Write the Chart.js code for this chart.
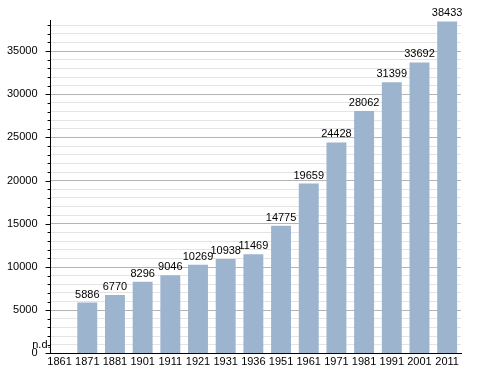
<!DOCTYPE html>
<html>
<head>
<meta charset="utf-8">
<script src="https://cdn.jsdelivr.net/npm/chart.js@4.4.0/dist/chart.umd.min.js"></script>
<style>
  html, body { margin: 0; padding: 0; background: #fff; }
  #wrap { width: 488px; height: 373px; position: relative; }
</style>
</head>
<body>
<div id="wrap"><canvas id="popChart"></canvas></div>
<script>
// =====================
// Data
// =====================
const years = ['1861', '1871', '1881', '1901', '1911', '1921', '1931', '1936',
  '1951', '1961', '1971', '1981', '1991', '2001', '2011'];
const population = [null, 5886, 6770, 8296, 9046, 10269, 10938, 11469,
  14775, 19659, 24428, 28062, 31399, 33692, 38433];
const missingLabel = 'n.d.';
const minorStep = 1000;
const majorStep = 5000;
const yTop = 38600;

const FONT = { family: 'Liberation Sans, Arial, sans-serif', size: 11 };
const isMajor = v => Math.round(v) % majorStep === 0;

// value labels above the bars + "n.d." for the missing census
const valueLabels = {
  id: 'valueLabels',
  afterDatasetsDraw(chart) {
    const ctx = chart.ctx;
    const meta = chart.getDatasetMeta(0);
    ctx.save();
    ctx.font = `${FONT.size}px ${FONT.family}`;
    ctx.fillStyle = '#000';
    ctx.textAlign = 'center';
    ctx.textBaseline = 'alphabetic';
    meta.data.forEach((bar, i) => {
      if (population[i] == null) return;
      ctx.fillText(String(population[i]), bar.x, bar.y - 5);
    });
    // n.d. sits just above zero, against the axis
    const yScale = chart.scales.y;
    ctx.textAlign = 'right';
    ctx.fillText(missingLabel, chart.chartArea.left, yScale.getPixelForValue(0) - 5);
    ctx.restore();
  }
};

// small tick marks left of the y axis (longer every 5000)
const yTickMarks = {
  id: 'yTickMarks',
  afterDraw(chart) {
    const ctx = chart.ctx;
    const yScale = chart.scales.y;
    const left = chart.chartArea.left;
    ctx.save();
    ctx.strokeStyle = '#000';
    ctx.lineWidth = 1;
    yScale.ticks.forEach(t => {
      const y = Math.round(yScale.getPixelForValue(t.value)) + 0.5;
      const len = isMajor(t.value) ? 5 : 3;
      ctx.beginPath();
      ctx.moveTo(left - len, y);
      ctx.lineTo(left, y);
      ctx.stroke();
    });
    ctx.restore();
  }
};

const ctx = document.getElementById('popChart').getContext('2d');
new Chart(ctx, {
  type: 'bar',
  data: {
    datasets: [{
      data: population.map((v, i) => ({ x: i, y: v })),
      backgroundColor: '#9db4cf',
      borderWidth: 0,
      barPercentage: 0.72,
      categoryPercentage: 1
    }]
  },
  options: {
    responsive: true,
    maintainAspectRatio: false,
    animation: false,
    layout: { padding: { top: 20, right: 27, left: -6, bottom: 2 } },
    plugins: {
      legend: { display: false },
      tooltip: { enabled: false }
    },
    scales: {
      x: {
        type: 'linear',
        offset: false,
        min: -0.325,
        max: 14.5,
        grid: { display: false, drawTicks: false },
        border: { display: true, color: '#000' },
        afterBuildTicks: axis => {
          axis.ticks = years.map((y, i) => ({ value: i }));
        },
        ticks: {
          color: '#000',
          font: FONT,
          padding: 2,
          autoSkip: false,
          maxRotation: 0,
          callback: v => years[v]
        }
      },
      y: {
        min: 0,
        max: yTop,
        grid: {
          drawTicks: false,
          color: c => (c.tick && isMajor(c.tick.value)) ? '#b4b4b4' : '#e4e4e4'
        },
        border: { display: true, color: '#000' },
        afterBuildTicks: axis => {
          const t = [];
          for (let v = 0; v <= yTop; v += minorStep) t.push({ value: v });
          axis.ticks = t;
        },
        ticks: {
          autoSkip: false,
          color: '#000',
          font: FONT,
          padding: 13,
          callback: v => isMajor(v) ? String(Math.round(v)) : ''
        }
      }
    }
  },
  plugins: [valueLabels, yTickMarks]
});
</script>
</body>
</html>
